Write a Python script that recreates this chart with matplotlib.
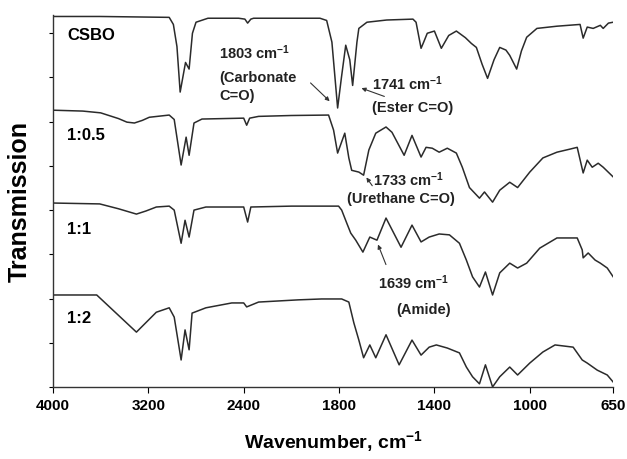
import numpy as np
import matplotlib
matplotlib.use('Agg')
import matplotlib.pyplot as plt

plt.rcParams['font.family'] = ['Liberation Sans', 'DejaVu Sans']
plt.rcParams['mathtext.fontset'] = 'custom'
plt.rcParams['mathtext.bf'] = 'Liberation Sans:bold'
plt.rcParams['mathtext.rm'] = 'Liberation Sans:bold'
plt.rcParams['mathtext.default'] = 'bf'

# FTIR spectra, wavenumber (cm-1) and stacked transmission (arbitrary units)
csbo_wn = [4000, 3608, 3025, 2990, 2960, 2933, 2888, 2858, 2830, 2800, 2700, 2442, 2390, 2367,
           2340, 2317, 2000, 1880, 1852, 1830, 1806, 1790, 1772, 1755, 1743, 1725, 1717, 1683,
           1600, 1490, 1477, 1456, 1445, 1430, 1400, 1371, 1340, 1308, 1270, 1245, 1224, 1200,
           1177, 1150, 1126, 1100, 1084, 1055, 1035, 1013, 970, 886, 789, 776, 759, 734, 704,
           692, 670, 650]
csbo_t = [83.8, 83.8, 83.6, 82.0, 77.0, 66.7, 73.4, 71.9, 80.0, 82.5, 83.4, 83.4, 83.2, 82.3,
          83.2, 83.4, 83.4, 83.4, 82.9, 78.0, 63.1, 70.0, 77.3, 74.0, 68.2, 78.0, 81.1, 82.5,
          83.0, 83.2, 82.5, 76.6, 78.0, 80.0, 80.5, 76.6, 79.5, 80.5, 79.0, 77.7, 76.8, 73.0,
          69.8, 74.0, 76.8, 76.2, 75.0, 71.9, 76.0, 79.1, 81.1, 81.6, 82.0, 78.9, 81.4, 81.1,
          81.8, 81.1, 82.3, 82.5]

r05_wn = [4000, 3750, 3600, 3450, 3380, 3317, 3250, 3192, 3025, 2983, 2925, 2883, 2858, 2817,
          2750, 2400, 2375, 2350, 2275, 2000, 1844, 1823, 1806, 1776, 1759, 1747, 1717, 1697,
          1675, 1646, 1603, 1578, 1527, 1494, 1456, 1435, 1409, 1380, 1346, 1308, 1283, 1253,
          1211, 1190, 1156, 1126, 1084, 1051, 1000, 945, 886, 831, 801, 776, 759, 738, 713,
          692, 650]
r05_t = [62.6, 62.4, 62.0, 60.7, 59.9, 59.7, 60.3, 61.0, 61.5, 60.5, 50.2, 56.5, 52.4, 59.7,
         60.6, 60.8, 59.2, 60.8, 61.2, 61.4, 61.5, 58.1, 52.9, 57.4, 51.8, 49.0, 48.6, 47.9,
         53.6, 57.4, 58.8, 57.6, 52.4, 56.9, 52.0, 54.2, 54.0, 53.1, 54.0, 52.9, 49.7, 45.1,
         42.7, 44.1, 41.8, 44.5, 46.3, 45.1, 48.6, 51.8, 53.1, 53.8, 54.2, 48.4, 51.3, 49.7,
         50.6, 49.7, 47.5]

r1_wn = [4000, 3608, 3450, 3300, 3220, 3133, 3025, 2983, 2925, 2892, 2858, 2817, 2717, 2400,
         2367, 2340, 2000, 1802, 1789, 1768, 1751, 1730, 1700, 1671, 1641, 1603, 1540, 1494,
         1456, 1422, 1380, 1337, 1295, 1266, 1240, 1211, 1186, 1156, 1126, 1084, 1051, 1013,
         958, 886, 801, 780, 776, 755, 726, 704, 675, 650]
r1_t = [41.6, 41.4, 40.3, 39.1, 39.8, 40.7, 40.9, 40.0, 32.5, 37.7, 33.9, 40.0, 40.7, 40.7,
        37.3, 40.7, 40.9, 40.9, 40.0, 37.1, 34.8, 33.2, 30.5, 33.9, 33.2, 38.2, 31.6, 36.6,
        32.8, 33.9, 34.6, 34.4, 32.5, 28.7, 24.9, 22.6, 26.0, 20.8, 25.8, 28.0, 26.9, 28.0,
        31.4, 33.7, 33.7, 31.0, 29.2, 30.3, 28.7, 28.0, 26.9, 24.9]

r2_wn = [4000, 3633, 3300, 3133, 3025, 2983, 2925, 2892, 2858, 2833, 2717, 2500, 2400, 2375,
         2275, 1970, 1873, 1789, 1759, 1738, 1717, 1697, 1671, 1646, 1603, 1548, 1494, 1456,
         1422, 1392, 1346, 1295, 1266, 1240, 1211, 1186, 1156, 1126, 1084, 1051, 1000, 945,
         894, 818, 780, 759, 717, 675, 650]
r2_t = [20.8, 20.8, 12.4, 16.9, 17.9, 15.8, 6.1, 12.9, 8.4, 16.7, 17.9, 19.0, 19.0, 18.1,
        19.2, 19.7, 19.9, 19.9, 19.2, 14.5, 10.6, 6.6, 9.5, 6.6, 11.8, 5.0, 10.6, 7.2,
        9.0, 9.5, 8.8, 7.7, 4.5, 2.3, 0.7, 5.0, 0.0, 2.3, 4.5, 2.7, 5.4, 7.9,
        9.5, 9.0, 6.1, 5.4, 3.8, 2.7, 1.1]

sample_names = ['CSBO', '1:0.5', '1:1', '1:2']
sample_label_y = [79.5, 56.9, 35.5, 15.4]
x_ticks = [4000, 3200, 2400, 1800, 1400, 1000, 650]


# instrument style axis: region below 2000 cm-1 is stretched 2x
def fwd(x):
    x = np.asarray(x, dtype=float)
    return np.where(x >= 2000, x, 2 * x - 2000)


def inv(u):
    u = np.asarray(u, dtype=float)
    return np.where(u >= 2000, u, (u + 2000) / 2)


fig = plt.figure(figsize=(6.27, 4.59), dpi=100)
ax = fig.add_axes([0.0845, 0.157, 0.8935, 0.81])
ax.set_xscale('function', functions=(fwd, inv))

line_color = '#2b2b2b'
for wn, t in [(csbo_wn, csbo_t), (r05_wn, r05_t), (r1_wn, r1_t), (r2_wn, r2_t)]:
    ax.plot(wn, t, color=line_color, lw=1.1)

ax.set_xlim(4000, 650)
ax.set_ylim(0, 84.1)
ax.set_xticks(x_ticks)
ax.set_xticklabels([str(v) for v in x_ticks], fontsize=11, fontweight='bold')
ax.set_yticks(np.arange(0, 81, 10))
ax.set_yticklabels([])
ax.tick_params(axis='x', direction='out', length=4, width=0.8, pad=5)
ax.tick_params(axis='y', direction='out', length=3, width=0.8)
ax.minorticks_off()
for s in ['top', 'right']:
    ax.spines[s].set_visible(False)
for s in ['left', 'bottom']:
    ax.spines[s].set_linewidth(1.0)
    ax.spines[s].set_color('#333333')

ax.set_xlabel('Wavenumber, cm$^{-1}$', fontsize=14, fontweight='bold', labelpad=11)
ax.set_ylabel('Transmission', fontsize=18, fontweight='bold', labelpad=9)

for name, y in zip(sample_names, sample_label_y):
    ax.text(3883, y, name, fontsize=12, fontweight='bold', va='center', ha='left')

ann_kw = dict(fontsize=10.5, fontweight='bold', va='center', ha='left', color='#222222')
ax.text(2608, 75.5, '1803 cm$^{-1}$', **ann_kw)
ax.text(2608, 69.8, '(Carbonate', **ann_kw)
ax.text(2608, 65.8, 'C=O)', **ann_kw)
ax.text(1662, 68.7, '1741 cm$^{-1}$', **ann_kw)
ax.text(1662, 63.1, '(Ester C=O)', **ann_kw)
ax.text(1658, 46.8, '1733 cm$^{-1}$', **ann_kw)
ax.text(1768, 42.5, '(Urethane C=O)', **ann_kw)
ax.text(1637, 23.5, '1639 cm$^{-1}$', **ann_kw)
ax.text(1561, 17.4, '(Amide)', **ann_kw)

arrow = dict(arrowstyle='-|>', color='#333333', lw=0.8, mutation_scale=6)
ax.annotate('', xy=(1831, 64.2), xytext=(1928, 69.2), arrowprops=arrow)
ax.annotate('', xy=(1717, 67.8), xytext=(1599, 65.5), arrowprops=arrow)
ax.annotate('', xy=(1692, 47.9), xytext=(1654, 45.0), arrowprops=arrow)
ax.annotate('', xy=(1641, 32.8), xytext=(1599, 27.1), arrowprops=arrow)

fig.savefig('out.png', dpi=100)
